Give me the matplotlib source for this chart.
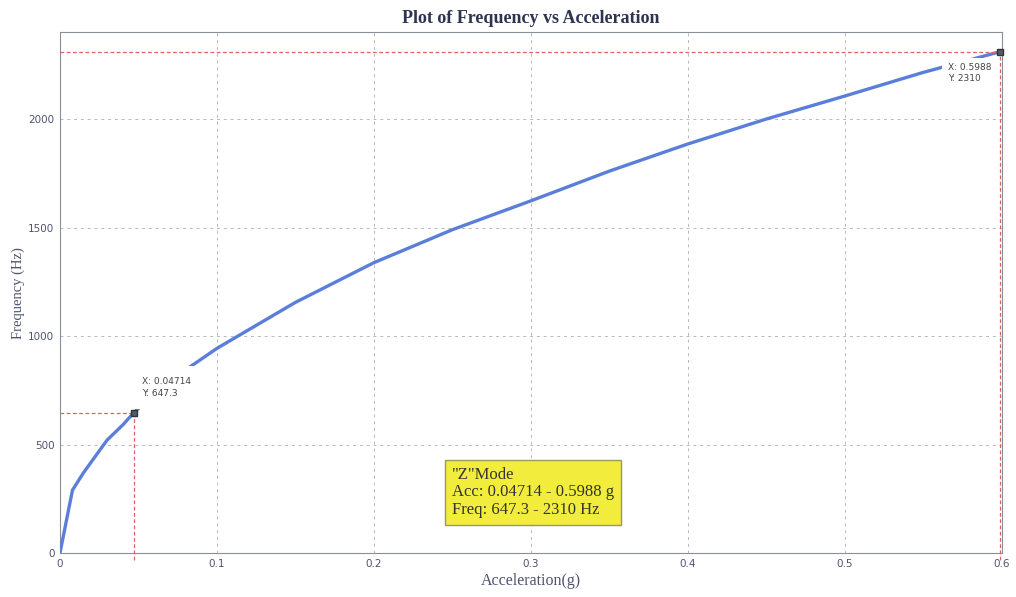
import matplotlib

matplotlib.use("Agg")
import matplotlib.pyplot as plt

# curve
accel = [0.0, 0.008, 0.015, 0.02, 0.03, 0.04, 0.04714, 0.06, 0.0777, 0.1,
         0.15, 0.2, 0.25, 0.3, 0.35, 0.4, 0.45, 0.5, 0.55, 0.5988]
freq = [0, 290, 370, 420, 520, 590, 647.3, 730, 832, 943,
        1155, 1338, 1490, 1623, 1760, 1885, 2000, 2106, 2215, 2310]

tips_x = [0.04714, 0.5988]
tips_y = [647.3, 2310]
tip_text = ["X: 0.04714\nY: 647.3", "X: 0.5988\nY: 2310"]
tip_pos = [(0.0522, 809), (0.5656, 2257)]

xticks = [0, 0.1, 0.2, 0.3, 0.4, 0.5, 0.6]
yticks = [0, 500, 1000, 1500, 2000]

TICK = "#4e5470"
SERIF = ["Liberation Serif", "DejaVu Serif"]

fig = plt.figure(figsize=(10.16, 5.97), dpi=100)
ax = fig.add_axes([0.059, 0.0737, 0.927, 0.8723])
ax.set_xlim(0, 0.6)
ax.set_ylim(0, 2400)
ax.set_xticks(xticks)
ax.set_xticklabels(["0", "0.1", "0.2", "0.3", "0.4", "0.5", "0.6"])
ax.set_yticks(yticks)
ax.tick_params(colors=TICK, labelsize=7.5, length=0, pad=4)
for s in ax.spines.values():
    s.set_color("#8a8f9c")
    s.set_linewidth(0.8)
ax.grid(True, ls=(0, (3, 4)), color="#b5b8c0", lw=0.7)
ax.set_axisbelow(True)

ax.plot(accel, freq, color="#5b7fd8", lw=2.4, zorder=3)

# data tips: white label boxes hide the curve under them
for (tx, ty), t, pad in zip(tip_pos, tip_text, [1.3, 0.6]):
    ax.text(tx, ty, t, fontsize=6.5, color="#444", va="top", ha="left",
            linespacing=1.3, zorder=4,
            bbox=dict(fc="white", ec="none", boxstyle=f"square,pad={pad}"))

# red guide lines to the data tips
for x, y in zip(tips_x, tips_y):
    ax.plot([0, x], [y, y], color="#e06060", ls=(0, (3, 2)), lw=0.9, zorder=4.5)
    ax.plot([x, x], [-30, y], color="#e06060", ls=(0, (3, 2)), lw=0.9,
            zorder=4.5, clip_on=False)

ax.plot(tips_x, tips_y, "s", ms=5, color="#555a66", mec="#333", zorder=5,
        clip_on=False)

ax.text(0.25, 398, "\"Z\"Mode\nAcc: 0.04714 - 0.5988 g\nFreq: 647.3 - 2310 Hz",
        family=SERIF, fontsize=12, color="#333", va="top", ha="left",
        linespacing=1.12, zorder=6,
        bbox=dict(fc="#f2ec3c", ec="#9a9860", lw=1, pad=5))

ax.set_title("Plot of Frequency vs Acceleration", family=SERIF,
             fontweight="bold", fontsize=13, color="#2e3350", pad=7)
ax.set_xlabel("Acceleration(g)", family=SERIF, fontsize=11.5, color=TICK,
              labelpad=3)
ax.set_ylabel("Frequency (Hz)", family=SERIF, fontsize=10.5, color=TICK,
              labelpad=2)

fig.savefig("out.png", dpi=100)
